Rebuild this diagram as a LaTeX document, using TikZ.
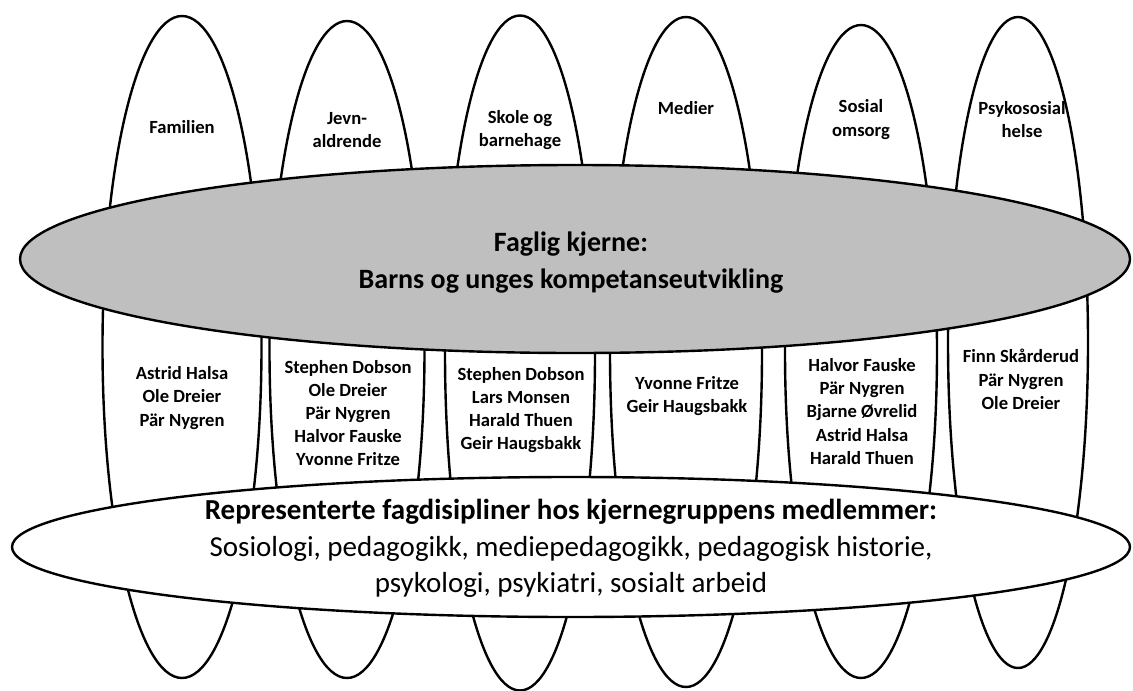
\documentclass[tikz,border=0pt]{standalone}
\usepackage{fontspec}
\setmainfont{Carlito}
\usetikzlibrary{shapes.geometric}

\definecolor{kjernegraa}{RGB}{191,191,191}
\tikzset{
  arena/.style={ellipse, draw, line width=2.4pt, fill=white, inner sep=0pt, outer sep=0pt},
  lbl/.style={align=center, inner sep=0pt, font=\bfseries\fontsize{18.6}{23.2}\selectfont},
  kjernetxt/.style={align=center, inner sep=0pt, font=\bfseries\fontsize{28}{37}\selectfont},
  fagtxt/.style={align=center, inner sep=0pt, font=\fontsize{29}{36.5}\selectfont},
}

\begin{document}
\begin{tikzpicture}[x=1pt,y=-1pt]
\useasboundingbox (0,0) rectangle (1133,691);
% arenaene
\node[arena, minimum width=159pt, minimum height=662pt] (fam) at (182,347) {};
\node[arena, minimum width=155pt, minimum height=657pt] (jevn) at (347,349.5) {};
\node[arena, minimum width=150pt, minimum height=675pt] (skole) at (520,353) {};
\node[arena, minimum width=152pt, minimum height=670pt] (medier) at (686,352) {};
\node[arena, minimum width=152pt, minimum height=653pt] (sosial) at (861,351.5) {};
\node[arena, minimum width=140pt, minimum height=651pt] (psyk) at (1018,342.5) {};
% faglig kjerne og fagdisipliner
\node[arena, fill=kjernegraa, minimum width=1110pt, minimum height=188pt] (kjerne) at (575,259) {};
\node[arena, minimum width=1118pt, minimum height=140pt] (fag) at (571,547) {};
% navn paa arenaene
\node[lbl] (famtxt) at (182,127) {Familien};
\node[lbl] (jevntxt) at (347,130) {Jevn-\\aldrende};
\node[lbl] (skoletxt) at (520,130) {Skole og\\barnehage};
\node[lbl] (medtxt) at (686,108) {Medier};
\node[lbl] (sostxt) at (861,119.5) {Sosial\\omsorg};
\node[lbl] (psytxt) at (1022,119.5) {Psykososial\\helse};
% medlemmer
\node[lbl] (famnavn) at (182,398) {Astrid Halsa\\Ole Dreier\\Pär Nygren};
\node[lbl] (jevnnavn) at (348,413) {Stephen Dobson\\Ole Dreier\\Pär Nygren\\Halvor Fauske\\Yvonne Fritze};
\node[lbl] (skolenavn) at (521,410) {Stephen Dobson\\Lars Monsen\\Harald Thuen\\Geir Haugsbakk};
\node[lbl] (mednavn) at (687,396) {Yvonne Fritze\\Geir Haugsbakk};
\node[lbl] (sosnavn) at (862,411.5) {Halvor Fauske\\Pär Nygren\\Bjarne Øvrelid\\Astrid Halsa\\Harald Thuen};
\node[lbl] (psynavn) at (1021,379.5) {Finn Skårderud\\Pär Nygren\\Ole Dreier};
% tekst i de store ellipsene
\node[kjernetxt] (kjernetekst) at (571,263) {Faglig kjerne:\\Barns og unges kompetanseutvikling};
\node[fagtxt] (fagtekst) at (571,548.5) {\textbf{Representerte fagdisipliner hos kjernegruppens medlemmer:}\\Sosiologi, pedagogikk, mediepedagogikk, pedagogisk historie,\\psykologi, psykiatri, sosialt arbeid};
\end{tikzpicture}
\end{document}
